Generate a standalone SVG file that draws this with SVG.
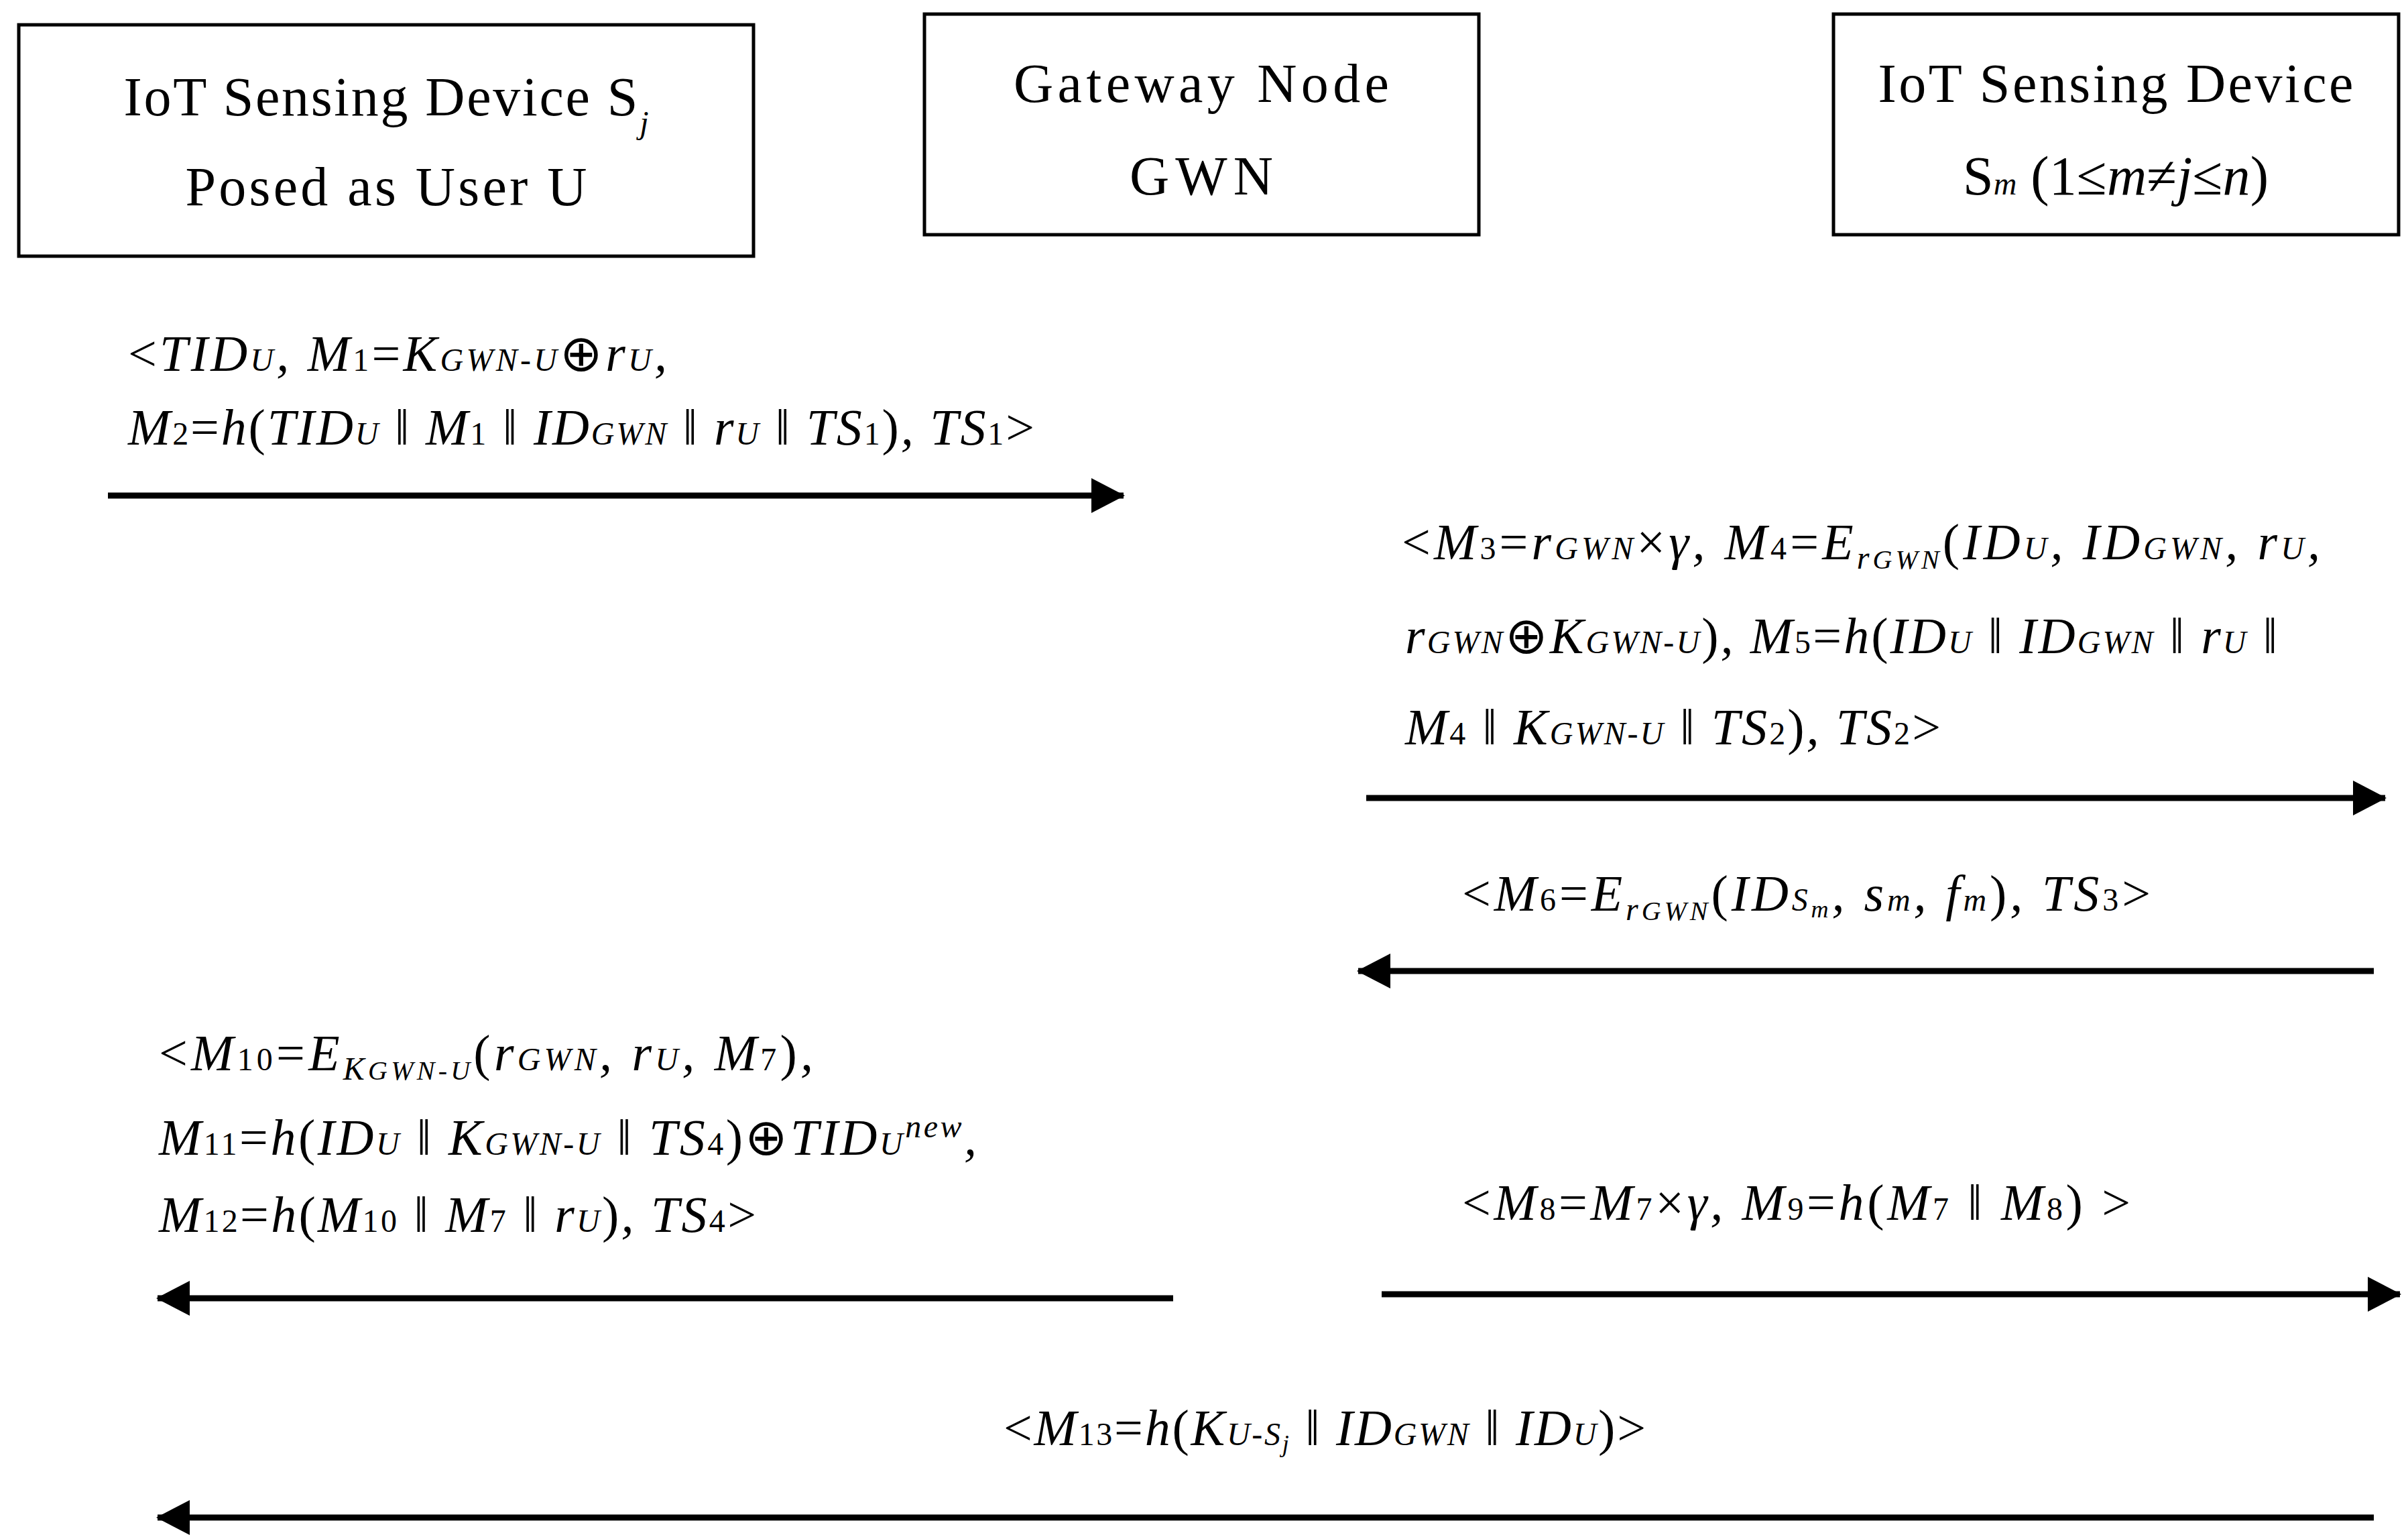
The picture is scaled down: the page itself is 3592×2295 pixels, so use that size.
<svg xmlns="http://www.w3.org/2000/svg" width="3592" height="2295" viewBox="0 0 3592 2295">
<style>
.box{fill:#fff;stroke:#000;stroke-width:5}
.t{font-family:"Liberation Serif",serif;font-size:82px;fill:#000}
.l{font-family:"Liberation Serif",serif;font-size:76px;font-style:italic;fill:#000}
.s{font-size:48px}
.n{font-style:normal}
.c{stroke:#000;stroke-width:9;fill:none;marker-end:url(#ah)}
</style>
<defs>
<marker id="ah" markerUnits="userSpaceOnUse" markerWidth="52" markerHeight="52" refX="48" refY="26" orient="auto"><path d="M0,0 L50,26 L0,52 Z" fill="#000"/></marker>
</defs>
<rect width="3592" height="2295" fill="#fff"/>
<g id="node-user"><rect class="box" x="28" y="37" width="1096" height="345"/>
<text class="t" x="576" y="172" text-anchor="middle" textLength="783" lengthAdjust="spacing">IoT Sensing Device S<tspan class="s" font-style="italic" baseline-shift="sub">j</tspan></text>
<text class="t" x="576" y="306" text-anchor="middle" textLength="599" lengthAdjust="spacing">Posed as User U</text></g>
<g id="node-gwn"><rect class="box" x="1379" y="21" width="827" height="329"/>
<text class="t" x="1792" y="152" text-anchor="middle" textLength="560" lengthAdjust="spacing">Gateway Node</text>
<text class="t" x="1792" y="290" text-anchor="middle" textLength="214" lengthAdjust="spacing">GWN</text></g>
<g id="node-sensor"><rect class="box" x="2735" y="21" width="843" height="329"/>
<text class="t" x="3156" y="152" text-anchor="middle" textLength="709" lengthAdjust="spacing">IoT Sensing Device</text>
<text class="t" x="3156" y="290" text-anchor="middle" textLength="456" lengthAdjust="spacing">S<tspan class="s" font-style="italic">m</tspan> (1≤<tspan font-style="italic">m</tspan>≠<tspan font-style="italic">j</tspan>≤<tspan font-style="italic">n</tspan>)</text></g>
<g id="connectors">
<line class="c" x1="161" y1="739" x2="1676" y2="739"/>
<line class="c" x1="2038" y1="1190" x2="3558" y2="1190"/>
<line class="c" x1="3541" y1="1448" x2="2026" y2="1448"/>
<line class="c" x1="1750" y1="1936" x2="235" y2="1936"/>
<line class="c" x1="2061" y1="1930" x2="3580" y2="1930"/>
<line class="c" x1="3541" y1="2263" x2="235" y2="2263"/>
</g>
<g id="labels">
<text class="l" x="191" y="553" textLength="804" lengthAdjust="spacing"><tspan class="n">&lt;</tspan>TID<tspan class="s">U</tspan>, M<tspan class="s n">1</tspan><tspan class="n">=</tspan>K<tspan class="s">GWN-U</tspan><tspan class="n">⊕</tspan>r<tspan class="s">U</tspan>,</text>
<text class="l" x="191" y="663" textLength="1352" lengthAdjust="spacing">M<tspan class="s n">2</tspan><tspan class="n">=</tspan>h<tspan class="n">(</tspan>TID<tspan class="s">U</tspan><tspan class="n"> ‖ </tspan>M<tspan class="s n">1</tspan><tspan class="n"> ‖ </tspan>ID<tspan class="s">GWN</tspan><tspan class="n"> ‖ </tspan>r<tspan class="s">U</tspan><tspan class="n"> ‖ </tspan>TS<tspan class="s n">1</tspan><tspan class="n">)</tspan>, TS<tspan class="s n">1</tspan><tspan class="n">&gt;</tspan></text>
<text class="l" x="2091" y="834" textLength="1370" lengthAdjust="spacing"><tspan class="n">&lt;</tspan>M<tspan class="s n">3</tspan><tspan class="n">=</tspan>r<tspan class="s">GWN</tspan><tspan class="n">×</tspan>γ, M<tspan class="s n">4</tspan><tspan class="n">=</tspan>E<tspan class="s" baseline-shift="-14">r<tspan font-size="40">GWN</tspan></tspan><tspan class="n">(</tspan>ID<tspan class="s">U</tspan>, ID<tspan class="s">GWN</tspan>, r<tspan class="s">U</tspan>,</text>
<text class="l" x="2096" y="974" textLength="1301" lengthAdjust="spacing">r<tspan class="s">GWN</tspan><tspan class="n">⊕</tspan>K<tspan class="s">GWN-U</tspan><tspan class="n">)</tspan>, M<tspan class="s n">5</tspan><tspan class="n">=</tspan>h<tspan class="n">(</tspan>ID<tspan class="s">U</tspan><tspan class="n"> ‖ </tspan>ID<tspan class="s">GWN</tspan><tspan class="n"> ‖ </tspan>r<tspan class="s">U</tspan><tspan class="n"> ‖</tspan></text>
<text class="l" x="2096" y="1110" textLength="799" lengthAdjust="spacing">M<tspan class="s n">4</tspan><tspan class="n"> ‖ </tspan>K<tspan class="s">GWN-U</tspan><tspan class="n"> ‖ </tspan>TS<tspan class="s n">2</tspan><tspan class="n">)</tspan>, TS<tspan class="s n">2</tspan><tspan class="n">&gt;</tspan></text>
<text class="l" x="2181" y="1358" textLength="1027" lengthAdjust="spacing"><tspan class="n">&lt;</tspan>M<tspan class="s n">6</tspan><tspan class="n">=</tspan>E<tspan class="s" baseline-shift="-14">r<tspan font-size="40">GWN</tspan></tspan><tspan class="n">(</tspan>ID<tspan class="s">S<tspan font-size="36" baseline-shift="-10">m</tspan></tspan>, s<tspan class="s">m</tspan>, f<tspan class="s">m</tspan><tspan class="n">)</tspan>, TS<tspan class="s n">3</tspan><tspan class="n">&gt;</tspan></text>
<text class="l" x="237" y="1596" textLength="976" lengthAdjust="spacing"><tspan class="n">&lt;</tspan>M<tspan class="s n">10</tspan><tspan class="n">=</tspan>E<tspan class="s" baseline-shift="-14">K<tspan font-size="40">GWN-U</tspan></tspan><tspan class="n">(</tspan>r<tspan class="s">GWN</tspan>, r<tspan class="s">U</tspan>, M<tspan class="s n">7</tspan><tspan class="n">)</tspan>,</text>
<text class="l" x="237" y="1722" textLength="1220" lengthAdjust="spacing">M<tspan class="s n">11</tspan><tspan class="n">=</tspan>h<tspan class="n">(</tspan>ID<tspan class="s">U</tspan><tspan class="n"> ‖ </tspan>K<tspan class="s">GWN-U</tspan><tspan class="n"> ‖ </tspan>TS<tspan class="s n">4</tspan><tspan class="n">)⊕</tspan>TID<tspan class="s">U</tspan><tspan class="s" baseline-shift="super">new</tspan>,</text>
<text class="l" x="237" y="1837" textLength="891" lengthAdjust="spacing">M<tspan class="s n">12</tspan><tspan class="n">=</tspan>h<tspan class="n">(</tspan>M<tspan class="s n">10</tspan><tspan class="n"> ‖ </tspan>M<tspan class="s n">7</tspan><tspan class="n"> ‖ </tspan>r<tspan class="s">U</tspan><tspan class="n">)</tspan>, TS<tspan class="s n">4</tspan><tspan class="n">&gt;</tspan></text>
<text class="l" x="2181" y="1819" textLength="997" lengthAdjust="spacing"><tspan class="n">&lt;</tspan>M<tspan class="s n">8</tspan><tspan class="n">=</tspan>M<tspan class="s n">7</tspan><tspan class="n">×</tspan>γ, M<tspan class="s n">9</tspan><tspan class="n">=</tspan>h<tspan class="n">(</tspan>M<tspan class="s n">7</tspan><tspan class="n"> ‖ </tspan>M<tspan class="s n">8</tspan><tspan class="n">) &gt;</tspan></text>
<text class="l" x="1497" y="2155" textLength="958" lengthAdjust="spacing"><tspan class="n">&lt;</tspan>M<tspan class="s n">13</tspan><tspan class="n">=</tspan>h<tspan class="n">(</tspan>K<tspan class="s">U-S<tspan font-size="36" baseline-shift="-10">j</tspan></tspan><tspan class="n"> ‖ </tspan>ID<tspan class="s">GWN</tspan><tspan class="n"> ‖ </tspan>ID<tspan class="s">U</tspan><tspan class="n">)&gt;</tspan></text>
</g>
</svg>
